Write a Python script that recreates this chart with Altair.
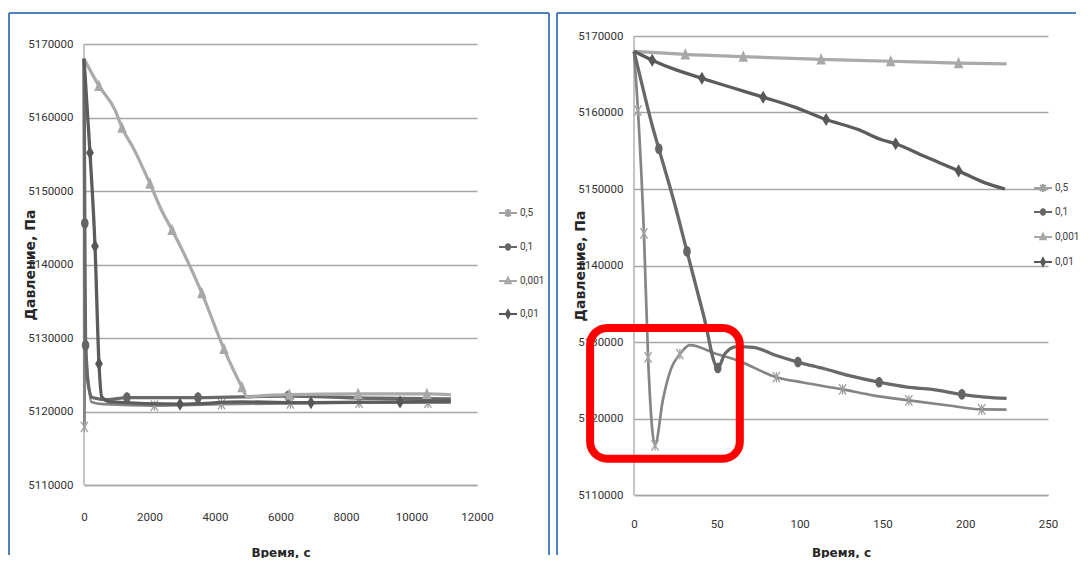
import altair as alt
import pandas as pd

SERIES = ["0,5", "0,1", "0,001", "0,01"]

# ---------- Left panel (time up to ~11200 s) ----------
LA_T = [0, 13, 34, 120, 225, 600, 2150, 4200, 6300, 8400, 10500, 11200]
LA_P = [5168000, 5117900, 5129600, 5124500, 5121300, 5121000, 5120800, 5121000, 5121100, 5121200, 5121200, 5121200]
LA_M = [13, 2150, 4200, 6300, 8400, 10500]

LB_T = [0, 25, 48, 120, 250, 700, 1310, 3480, 6230, 8900, 11200]
LB_P = [5168000, 5145600, 5129000, 5124000, 5121900, 5121600, 5121900, 5121900, 5122100, 5121800, 5121700]
LB_M = [25, 48, 1310, 3480, 6230]

LC_T = [0, 458, 950, 1160, 1500, 2015, 2410, 2690, 3600, 4275, 4825, 4980, 5600, 6270, 8370, 10470, 11200]
LC_P = [5168000, 5164300, 5161000, 5158600, 5155900, 5151000, 5147000, 5144700, 5136100, 5128500, 5123300,
        5122000, 5122200, 5122300, 5122400, 5122400, 5122300]
LC_M = [458, 1160, 2015, 2690, 3600, 4275, 4825, 6270, 8370, 10470]

LD_T = [0, 183, 336, 458, 540, 800, 2930, 4800, 6930, 9650, 11200]
LD_P = [5168000, 5155200, 5142500, 5126500, 5122000, 5121300, 5121000, 5121300, 5121200, 5121300, 5121400]
LD_M = [183, 336, 458, 2930, 6930, 9650]

# ---------- Right panel (first 225 s) ----------
RA_T = [0, 2.4, 6, 8.5, 12.7, 17.5, 22.3, 27.7, 33.7, 50, 62, 86, 102, 126, 145, 166, 190, 210, 225]
RA_P = [5168000, 5160260, 5144200, 5128000, 5116500, 5122500, 5126450, 5128420, 5129600, 5128420, 5127630,
        5125400, 5124700, 5123800, 5123000, 5122370, 5121700, 5121180, 5121150]
RA_M = [2.4, 6, 8.5, 12.7, 27.7, 86, 126, 166, 210]

RB_T = [0, 5, 11, 15, 24, 32, 42, 50.6, 55, 62, 72, 85, 99, 115, 130, 148, 165, 180, 198, 212, 225]
RB_P = [5168000, 5163500, 5158300, 5155260, 5148500, 5141840, 5133500, 5126600, 5128500, 5129400, 5129300,
        5128300, 5127370, 5126500, 5125600, 5124740, 5124100, 5123800, 5123160, 5122800, 5122630]
RB_M = [15, 32, 50.6, 99, 148, 198]

RC_T = [0, 31, 66, 113, 155, 196, 225]
RC_P = [5168000, 5167600, 5167300, 5166950, 5166700, 5166450, 5166350]
RC_M = [31, 66, 113, 155, 196]

RD_T = [0, 11, 25, 41, 60, 78, 97, 116, 135, 150, 158, 175, 196, 212, 224]
RD_P = [5168000, 5166840, 5165600, 5164470, 5163200, 5162000, 5160700, 5159080, 5157800, 5156400, 5155920,
        5154300, 5152370, 5150800, 5150000]
RD_M = [11, 41, 78, 116, 158, 196]

# highlighted region (right panel), in data units
HL_T = [-26.5, 63.9]
HL_P = [5114740, 5131840]

Y_TICKS = [5110000, 5120000, 5130000, 5140000, 5150000, 5160000, 5170000]
LX_TICKS = [0, 2000, 4000, 6000, 8000, 10000, 12000]
RX_TICKS = [0, 50, 100, 150, 200, 250]

# ---------- styles ----------
LINE_COLORS = ["#858585", "#696969", "#aaaaaa", "#5c5c5c"]
MARK_COLORS = ["#a0a0a0", "#656565", "#a8a8a8", "#575757"]
LINE_WIDTHS = [2.7, 3.3, 3.2, 3.3]
MARK_SHAPES = [
    "M-0.67,-1L0.67,1M-0.67,1L0.67,-1M0,-1L0,1",
    "M-0.7,0A0.7,1 0 1,0 0.7,0A0.7,1 0 1,0 -0.7,0Z",
    "M0,-1L0.75,0.8L-0.75,0.8Z",
    "M0,-1L0.6,0L0,1L-0.6,0Z",
]
MARK_SIZES = [110, 115, 160, 170]
MARK_FILLED = [False, True, True, True]
LEG_MARKS = [
    "M-0.3,-0.35L0.3,0.35M-0.3,0.35L0.3,-0.35M0,-0.45L0,0.45",
    "M-0.22,0A0.22,0.3 0 1,0 0.22,0A0.22,0.3 0 1,0 -0.22,0Z",
    "M0,-0.35L0.3,0.25L-0.3,0.25Z",
    "M0,-0.4L0.22,0L0,0.4L-0.22,0Z",
]
LABEL_FONT = "Roboto"
TITLE_FONT = "DejaVu Sans"
BORDER = "#4f81bd"
GRID = "#a6a6a6"


def panel(data, xdom, xvals, w, h, ytop, xlab_pad, xtitle_y, ytitle_y, leg_x, leg_ys, border, box=None):
    xs = alt.Scale(domain=xdom, nice=False, zero=False)
    ys = alt.Scale(domain=[Y_TICKS[0], ytop], nice=False, zero=False)
    xaxis = alt.Axis(values=xvals, format="d", grid=False, ticks=False, tickSize=0,
                     domain=True, domainColor=GRID, domainWidth=1.5,
                     labelPadding=xlab_pad, labelFont=LABEL_FONT, labelFontSize=11.5,
                     labelColor="#333333", labelFlush=False, labelOverlap=False,
                     title="Время, с", titleFont=TITLE_FONT, titleFontSize=12,
                     titleFontWeight="bold", titleColor="#262626",
                     titleY=xtitle_y, titleBaseline="middle")
    yaxis = alt.Axis(values=Y_TICKS, format="d", grid=True, gridColor=GRID, gridWidth=1.6,
                     ticks=False, tickSize=0, domain=False,
                     labelPadding=11, labelFont=LABEL_FONT, labelFontSize=11.5,
                     labelColor="#333333", labelFlush=False, labelOverlap=False,
                     title="Давление, Па", titleFont=TITLE_FONT, titleFontSize=14,
                     titleFontWeight="bold", titleColor="#262626",
                     titleX=-47, titleY=ytitle_y, titleBaseline="bottom", titleAngle=270)
    dummy = pd.DataFrame({"k": [0]})
    layers = []
    bx0, by0, bx1, by1, right_side = border
    layers.append(alt.Chart(dummy).mark_rule(color=BORDER, strokeWidth=2).encode(
        x=alt.value(bx0), y=alt.value(by0), y2=alt.value(by1)))
    layers.append(alt.Chart(dummy).mark_rule(color=BORDER, strokeWidth=2).encode(
        x=alt.value(bx0), x2=alt.value(bx1), y=alt.value(by0)))
    if right_side:
        layers.append(alt.Chart(dummy).mark_rule(color=BORDER, strokeWidth=2).encode(
            x=alt.value(bx1), y=alt.value(by0), y2=alt.value(by1)))

    # vertical value-axis line, from the lowest to the highest tick
    adf = pd.DataFrame({"a": [Y_TICKS[0]], "b": [Y_TICKS[-1]]})
    layers.append(alt.Chart(adf).mark_rule(color=GRID, strokeWidth=1.3).encode(
        x=alt.value(0), y=alt.Y("a:Q", scale=ys, axis=yaxis), y2="b:Q"))

    X = alt.X("t:Q", scale=xs, axis=xaxis)
    Y = alt.Y("p:Q", scale=ys, axis=yaxis)
    for i, name in enumerate(SERIES):
        t, p, m = data[i]
        df = pd.DataFrame({"t": t, "p": p, "series": name, "m": [v in m for v in t]})
        line = alt.Chart(df).mark_line(interpolate="monotone", color=LINE_COLORS[i],
                                       strokeWidth=LINE_WIDTHS[i]).encode(x=X, y=Y)
        pts = alt.Chart(df).transform_filter("datum.m").mark_point(
            shape=MARK_SHAPES[i], size=MARK_SIZES[i], filled=MARK_FILLED[i], opacity=1,
            strokeWidth=1.3).encode(
            x=X, y=Y,
            color=alt.Color("series:N", scale=alt.Scale(domain=[name], range=[MARK_COLORS[i]]),
                            legend=alt.Legend(orient="none", legendX=leg_x, legendY=leg_ys[i],
                                              title=None, symbolType="M-1,0L1,0" + LEG_MARKS[i],
                                              symbolSize=324, symbolStrokeWidth=2,
                                              symbolStrokeColor=MARK_COLORS[i],
                                              symbolOpacity=1,
                                              labelFont=LABEL_FONT, labelFontSize=10,
                                              labelColor="#404040", labelOffset=2, padding=0)))
        layers += [line, pts]

    if box is not None:
        bdf = pd.DataFrame({"x1": [box[0][0]], "x2": [box[0][1]], "y1": [box[1][0]], "y2": [box[1][1]]})
        layers.append(alt.Chart(bdf).mark_rect(fillOpacity=0, stroke="#ff0000", strokeWidth=8,
                                               cornerRadius=17).encode(
            x=alt.X("x1:Q", scale=xs, axis=xaxis), x2="x2:Q",
            y=alt.Y("y1:Q", scale=ys, axis=yaxis), y2="y2:Q"))

    return alt.layer(*layers).resolve_scale(color="independent").resolve_legend(
        color="independent").properties(width=w, height=h)


# left plot area is 8 px taller at the top (both panels share the same top origin)
LH = 449
left_top = Y_TICKS[0] + (Y_TICKS[-1] - Y_TICKS[0]) * LH / 441

left = panel(
    [(LA_T, LA_P, LA_M), (LB_T, LB_P, LB_M), (LC_T, LC_P, LC_M), (LD_T, LD_P, LD_M)],
    [0, 12000], LX_TICKS, 393, LH, left_top, 26, 67, (8 + LH) / 2, 414, [167, 201, 235, 268],
    (-75, -23, 465, 519, True))

right = panel(
    [(RA_T, RA_P, RA_M), (RB_T, RB_P, RB_M), (RC_T, RC_P, RC_M), (RD_T, RD_P, RD_M)],
    [0, 250], RX_TICKS, 414, 459, Y_TICKS[-1], 23, 57, 459 / 2, 399, [142, 166, 191, 216],
    (-77, -23, 442, 519, False), box=(HL_T, HL_P))

chart = alt.hconcat(left, right, spacing=6).properties(
    padding={"left": 0, "top": 4, "right": 0, "bottom": 0},
    background="white",
).configure_view(stroke=None)

chart.save("out.html", embed_options={"renderer": "svg", "actions": False})
